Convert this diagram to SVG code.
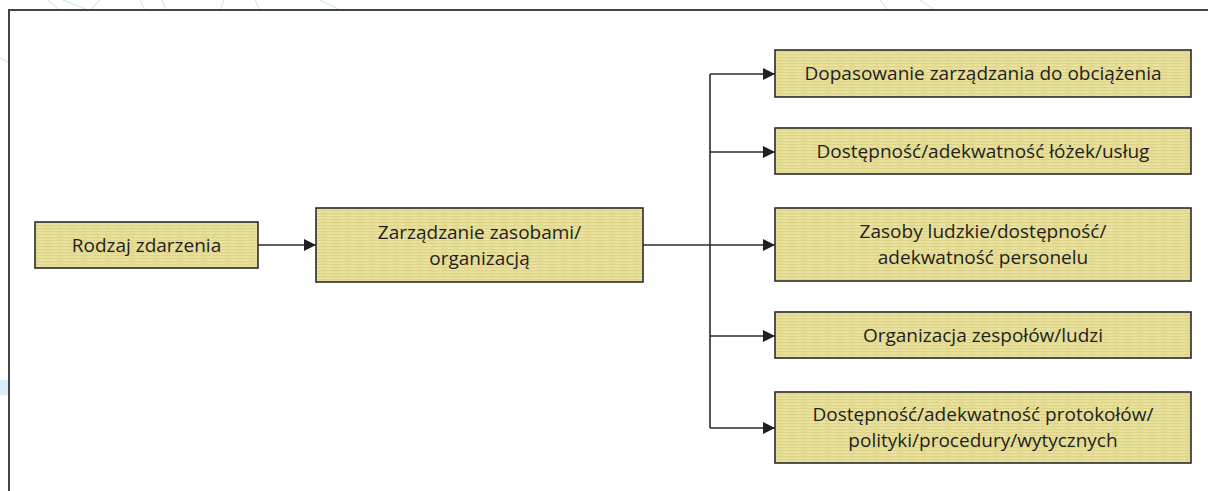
<svg xmlns="http://www.w3.org/2000/svg" width="1208" height="491" viewBox="0 0 1208 491">
  <style>
    .box { fill: url(#linen); stroke: #2b2b2b; stroke-width: 1.6; }
    .lbl { font-family: "Open Sans", "Noto Sans", "DejaVu Sans", sans-serif; font-size: 19px; fill: #231f20; text-anchor: middle; }
    .wire { fill: none; stroke: #2b2b2b; stroke-width: 1.6; }
    .deco { fill: none; stroke: #c5e6f2; stroke-width: 1; }
  </style>
  <defs>
    <!-- faint horizontal weave used as box fill -->
    <pattern id="linen" width="12" height="3" patternUnits="userSpaceOnUse">
      <rect width="12" height="3" fill="#e7de95"/>
      <rect y="0" width="12" height="1" fill="#ddd38a"/>
      <rect x="3" y="2" width="6" height="1" fill="#ece5a6"/>
    </pattern>
    <marker id="tip" viewBox="0 0 10 10" refX="10" refY="5" markerWidth="12" markerHeight="12" markerUnits="userSpaceOnUse" orient="auto">
      <path d="M0,0 L10,5 L0,10 z" fill="#231f20"/>
    </marker>
  </defs>

  <rect width="1208" height="491" fill="#ffffff"/>

  <!-- light decorative strokes around the frame -->
  <g id="decoration">
    <path class="deco" d="M48,0 L60,10 M63,0 L88,10 M100,0 L90,10 M140,0 L145,10 M162,0 L166,10 M224,0 L220,10 M255,0 L260,10 M320,0 L340,10 M880,0 L888,10 M920,0 L935,10 M0,58 L8,62"/>
    <rect x="0" y="380" width="8" height="15" fill="#dbeef7"/>
  </g>

  <!-- outer frame -->
  <path d="M9,491 V10 H1208" fill="none" stroke="#444" stroke-width="2"/>

  <g id="connectors">
    <path class="wire" d="M258,245 H316" marker-end="url(#tip)"/>
    <path class="wire" d="M643,245 H775" marker-end="url(#tip)"/>
    <path class="wire" d="M710,74 V428"/>
    <path class="wire" d="M710,74 H775" marker-end="url(#tip)"/>
    <path class="wire" d="M710,152 H775" marker-end="url(#tip)"/>
    <path class="wire" d="M710,336 H775" marker-end="url(#tip)"/>
    <path class="wire" d="M710,428 H775" marker-end="url(#tip)"/>
  </g>

  <g id="rodzaj">
    <rect class="box" x="35" y="222" width="223" height="46"/>
    <text class="lbl" x="146.5" y="252">Rodzaj zdarzenia</text>
  </g>

  <g id="zarzadzanie">
    <rect class="box" x="316" y="208" width="327" height="74"/>
    <text class="lbl" x="479.5" y="239">Zarządzanie zasobami/</text>
    <text class="lbl" x="479.5" y="265">organizacją</text>
  </g>

  <g id="dopasowanie">
    <rect class="box" x="775" y="50" width="416" height="47"/>
    <text class="lbl" x="983" y="80">Dopasowanie zarządzania do obciążenia</text>
  </g>

  <g id="lozka">
    <rect class="box" x="775" y="128" width="416" height="46"/>
    <text class="lbl" x="983" y="158">Dostępność/adekwatność łóżek/usług</text>
  </g>

  <g id="zasoby-ludzkie">
    <rect class="box" x="775" y="208" width="416" height="73"/>
    <text class="lbl" x="983" y="238">Zasoby ludzkie/dostępność/</text>
    <text class="lbl" x="983" y="264">adekwatność personelu</text>
  </g>

  <g id="organizacja">
    <rect class="box" x="775" y="312" width="416" height="46"/>
    <text class="lbl" x="983" y="342">Organizacja zespołów/ludzi</text>
  </g>

  <g id="protokoly">
    <rect class="box" x="775" y="392" width="416" height="71"/>
    <text class="lbl" x="983" y="421">Dostępność/adekwatność protokołów/</text>
    <text class="lbl" x="983" y="447">polityki/procedury/wytycznych</text>
  </g>
</svg>
